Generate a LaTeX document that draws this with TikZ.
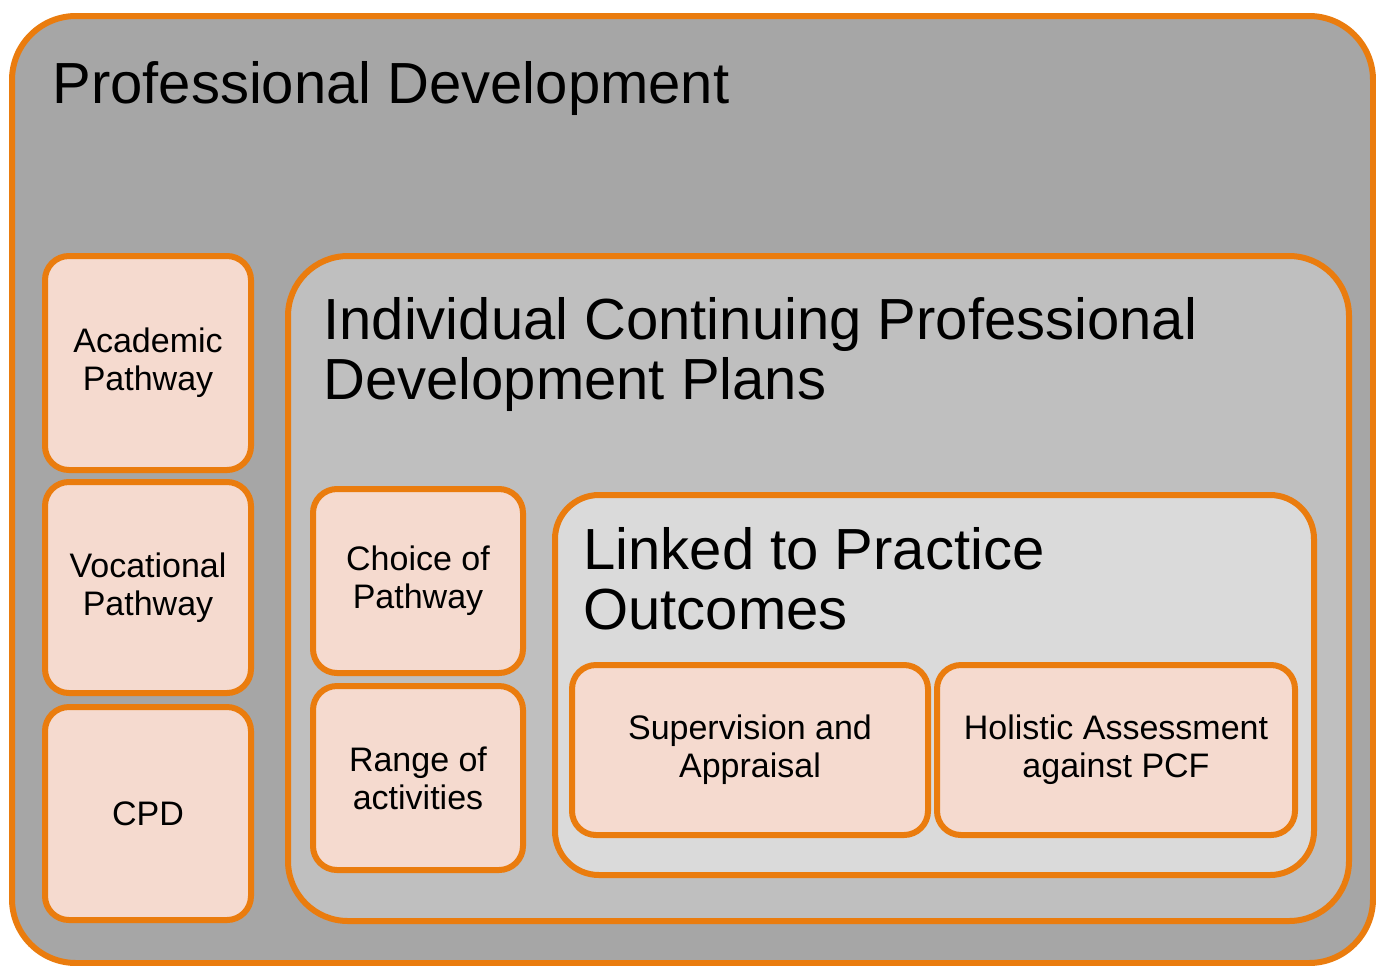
\documentclass[tikz,border=0pt]{standalone}
\usepackage{fontspec}
\setmainfont{Liberation Sans}
\usepackage{tikz}
\usetikzlibrary{positioning}
\definecolor{frameorange}{RGB}{234,124,14}
\definecolor{outergray}{RGB}{166,166,166}
\definecolor{midgray}{RGB}{191,191,191}
\definecolor{innergray}{RGB}{218,218,218}
\definecolor{boxpink}{RGB}{245,218,207}

\begin{document}
\begin{tikzpicture}[x=0.5pt,y=-0.5pt,
	frame/.style={draw=frameorange,line width=3pt},
	pinkbox/.style={frame,fill=boxpink,rounded corners=12pt,align=center,
		font=\fontsize{17pt}{19pt}\selectfont,inner sep=0pt},
	title/.style={anchor=base west,align=left,inner sep=0pt,
		font=\fontsize{29pt}{30pt}\selectfont}]
	\useasboundingbox[fill=white] (0,0) rectangle (1376,965);
	%OUTER BOX
	\draw[frame,fill=outergray,rounded corners=32pt] (12,16) rectangle (1373,963);
	\node[title] (pdtitle) at (52,103) {Professional Development};
	  %LEFT COLUMN
	  \node[pinkbox,minimum width=103pt,minimum height=107pt] (acad) at (148,363) {Academic\\Pathway};
	  \node[pinkbox,minimum width=103pt,minimum height=105.5pt] (voc) at (148,587.5) {Vocational\\Pathway};
	  \node[pinkbox,minimum width=103pt,minimum height=106.5pt] (cpd) at (148,813.5) {CPD};
	%MIDDLE BOX
	\draw[frame,fill=midgray,rounded corners=30pt] (288,256) rectangle (1349,921);
	\node[title] (icpd) at (323,399) {Individual Continuing Professional\\Development Plans};
	  \node[pinkbox,minimum width=105pt,minimum height=92pt] (choice) at (418,581) {Choice of\\Pathway};
	  \node[pinkbox,minimum width=105pt,minimum height=92pt] (range) at (418,778) {Range of\\activities};
	%INNER BOX
	\draw[frame,fill=innergray,rounded corners=22pt] (555,495) rectangle (1314,875);
	\node[title] (linked) at (583,629) {Linked to Practice\\Outcomes};
	  \node[pinkbox,minimum width=178pt,minimum height=85pt] (superv) at (750,750) {Supervision and\\Appraisal};
	  \node[pinkbox,minimum width=179pt,minimum height=85pt] (holist) at (1116,750) {Holistic Assessment\\against PCF};
\end{tikzpicture}
\end{document}
